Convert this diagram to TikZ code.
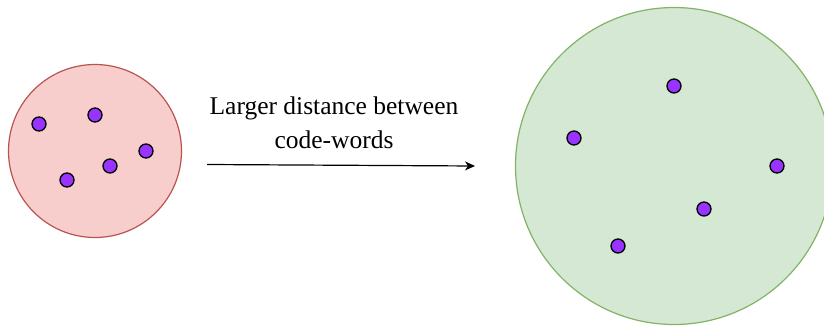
\documentclass[tikz,border=0pt]{standalone}
\usepackage{fontspec}
\setmainfont{Liberation Serif}
\usetikzlibrary{positioning, arrows.meta}
\definecolor{redfill}{HTML}{F8CECC}
\definecolor{redline}{HTML}{B85450}
\definecolor{greenfill}{HTML}{D5E8D4}
\definecolor{greenline}{HTML}{82B366}
\definecolor{dotfill}{HTML}{9933FF}

\begin{document}
\begin{tikzpicture}[
    x=1pt, y=-1pt,      % pixel coordinates
    >={Stealth[length=10pt, width=9pt, inset=3pt]},
    line width=1.2pt,
    small/.style={circle, draw=redline, fill=redfill, minimum size=173pt, inner sep=0pt},
    large/.style={circle, draw=greenline, fill=greenfill, minimum size=317pt, inner sep=0pt},
    word/.style={circle, draw=black, fill=dotfill, minimum size=14pt, inner sep=0pt, line width=1.3pt},
    caption/.style={anchor=base, font=\fontsize{25.5}{30}\selectfont}
  ]
  \useasboundingbox (0,0) rectangle (824,329);

  % --- ESPACOS ---
  \node[small] (code) at (95,151) {};
  \node[large] (wide) at (674,166) {};

  % --- PALAVRAS ---
  \node[word] (a1) at (39,124) {};
  \node[word] (a2) at (95,115) {};
  \node[word] (a3) at (146,151) {};
  \node[word] (a4) at (110,166) {};
  \node[word] (a5) at (67,180) {};

  \node[word] (b1) at (674,86) {};
  \node[word] (b2) at (574,138) {};
  \node[word] (b3) at (777,166) {};
  \node[word] (b4) at (704,209) {};
  \node[word] (b5) at (618,246) {};

  % --- SETA ---
  \node[caption] (line1) at (334,114) {Larger distance between};
  \node[caption] (line2) at (334,148) {code-words};
  \coordinate (src) at (207,164.5);
  \coordinate (dst) at (475,166);
  \draw[->] (src) -- (dst);

\end{tikzpicture}
\end{document}
